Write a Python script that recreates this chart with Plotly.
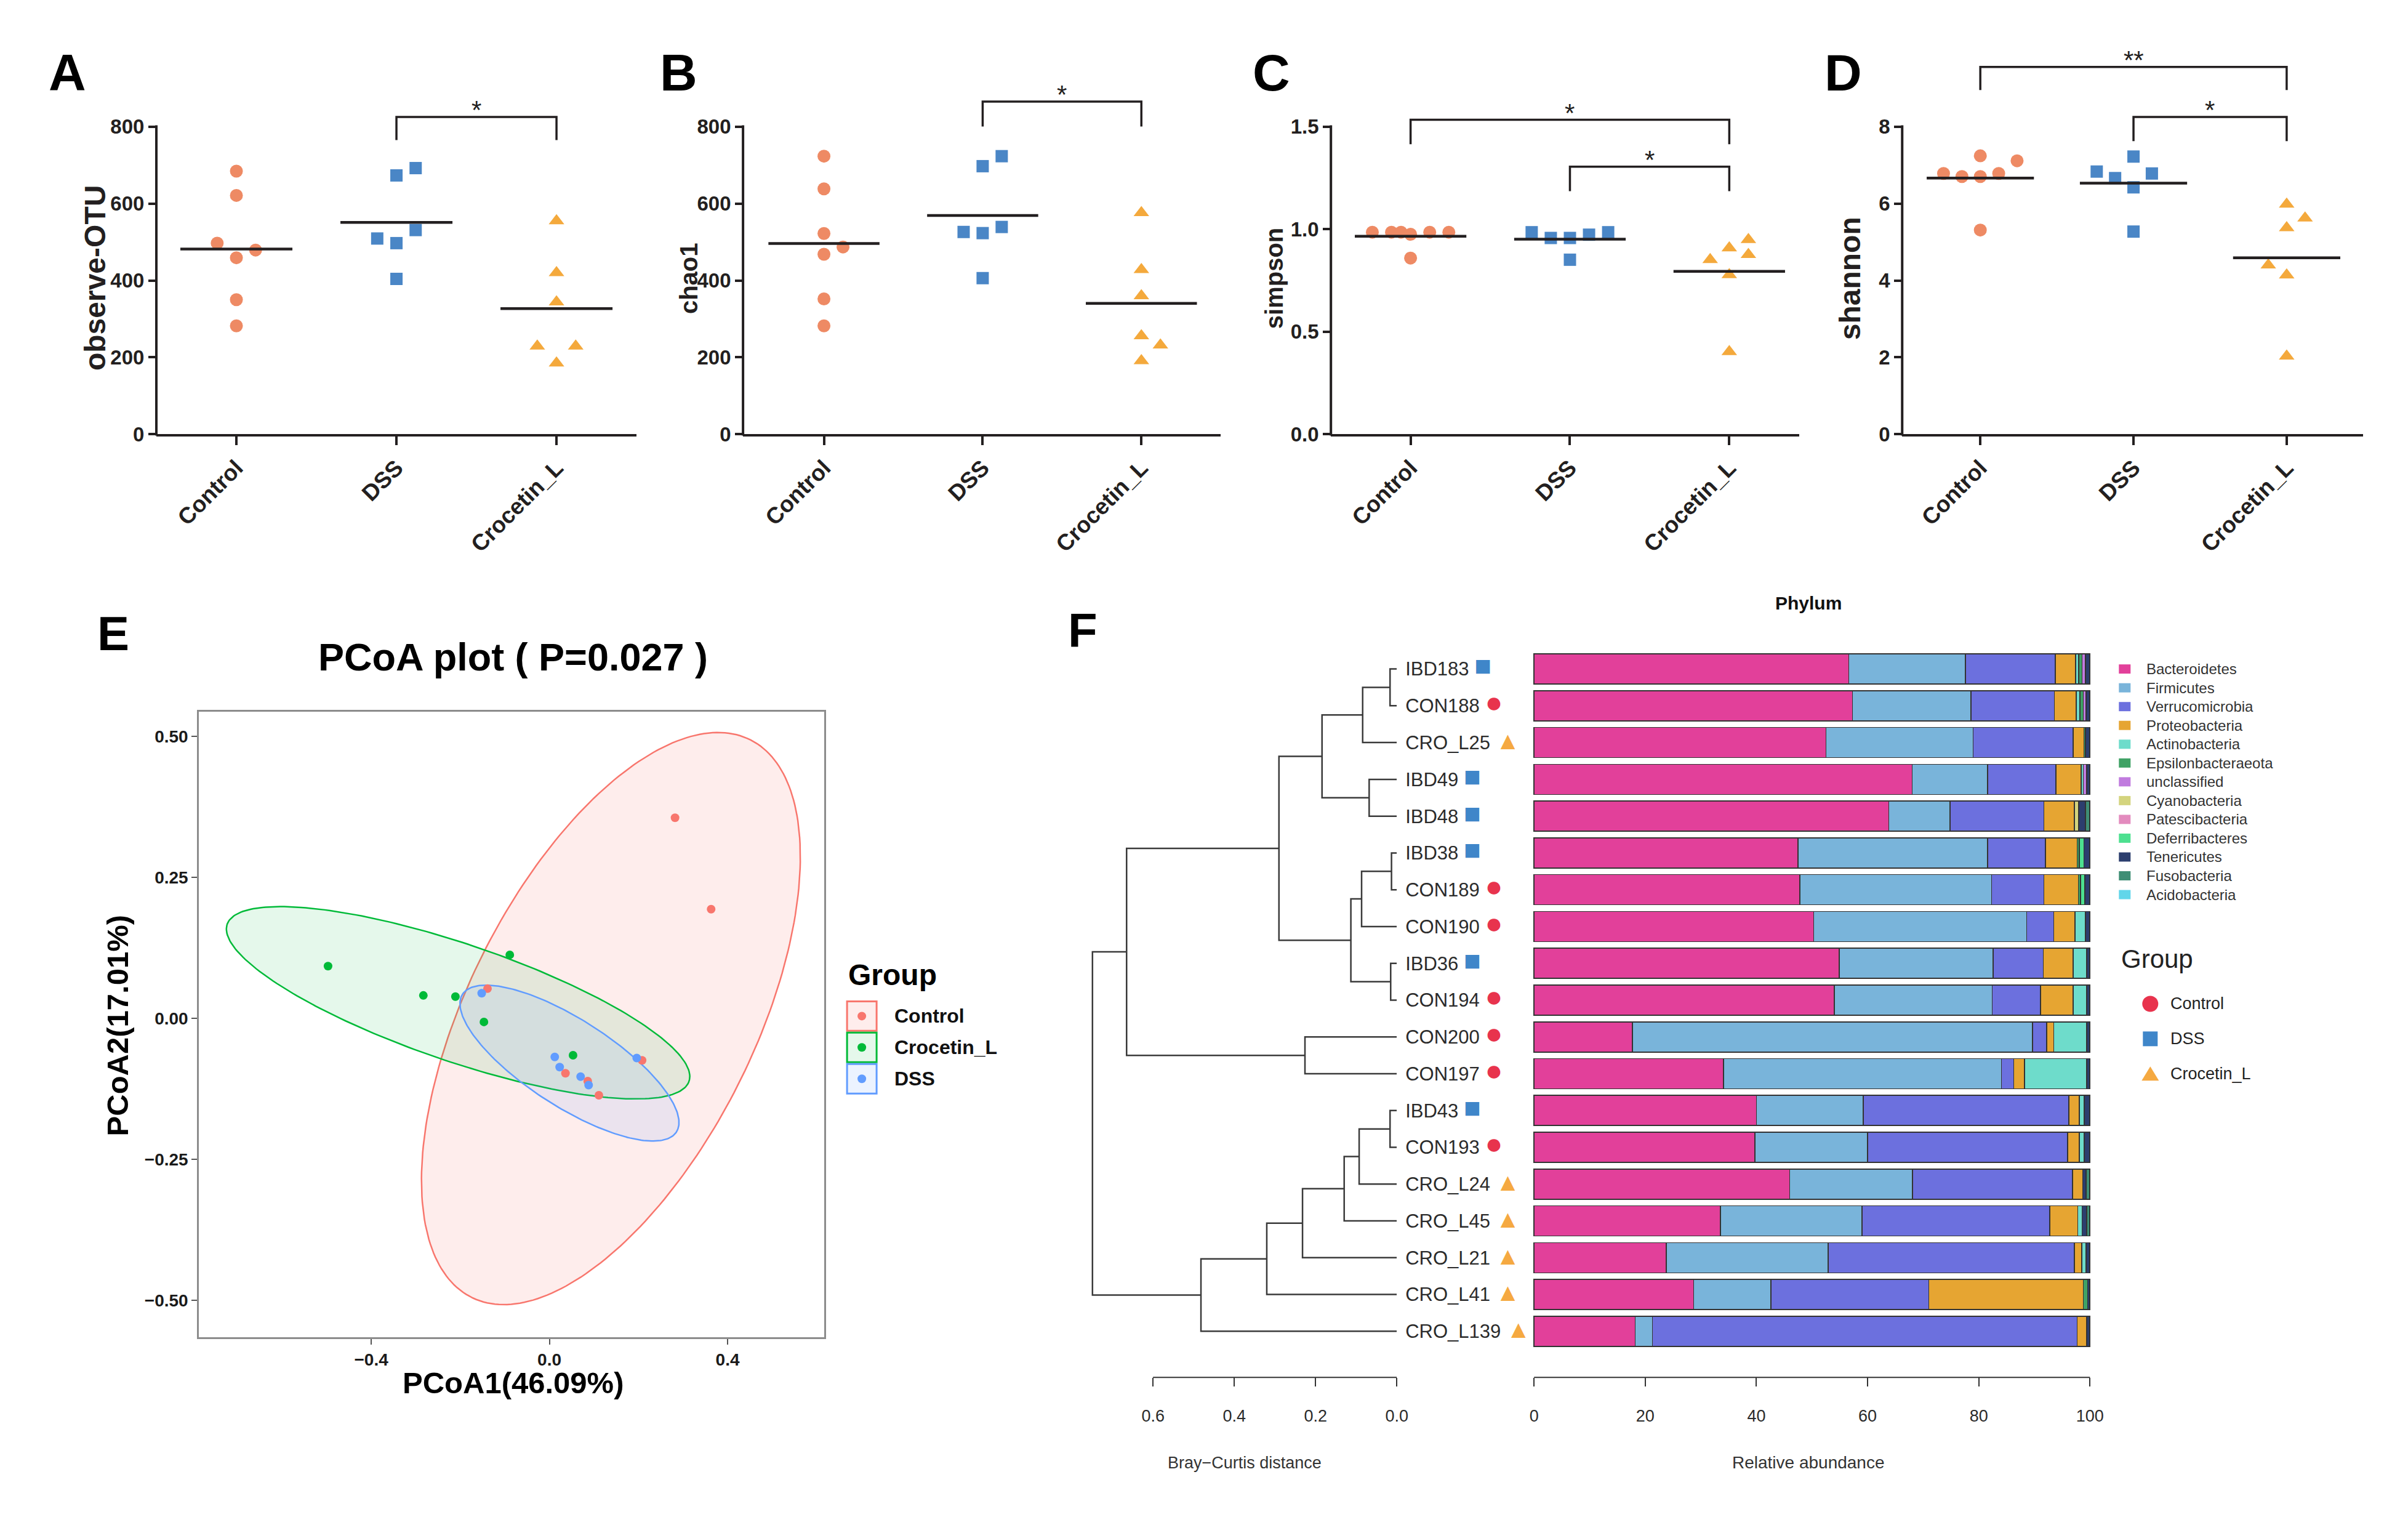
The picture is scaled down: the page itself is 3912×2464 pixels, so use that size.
import numpy as np
import plotly.graph_objects as go

W, H = 3912, 2464
S = 1.006  # small global calibration of pixel positions
FONT = "Liberation Sans, Arial, Helvetica, sans-serif"
INK = "#231F20"


def fx(p):
    return p * S / W


def fy(p):
    return 1 - p * S / H


# ======================= DATA =======================
groups = ["Control", "DSS", "Crocetin_L"]

# ---- A: observe-OTU
otu_control = [684, 621, 497, 479, 459, 350, 282]
otu_dss = [692, 673, 531, 509, 497, 404]
otu_croc = [555, 420, 344, 229, 229, 185]
otu_control_dx = [0, 0, -0.12, 0.12, 0, 0, 0]
otu_dss_dx = [0.12, 0, 0.12, -0.12, 0, 0]
otu_croc_dx = [0, 0, 0, -0.12, 0.12, 0]
otu_ticks = [0, 200, 400, 600, 800]
otu_brackets = [("DSS", "Crocetin_L", 825, 765, "*")]

# ---- B: chao1
chao_control = [723, 638, 522, 487, 468, 352, 282]
chao_dss = [723, 697, 539, 526, 523, 406]
chao_croc = [576, 428, 360, 256, 232, 191]
chao_control_dx = [0, 0, 0, 0.12, 0, 0, 0]
chao_dss_dx = [0.12, 0, 0.12, -0.12, 0, 0]
chao_croc_dx = [0, 0, 0, 0, 0.12, 0]
chao_ticks = [0, 200, 400, 600, 800]
chao_brackets = [("DSS", "Crocetin_L", 865, 800, "*")]

# ---- C: simpson
simp_control = [0.985, 0.985, 0.985, 0.975, 0.985, 0.985, 0.859]
simp_dss = [0.985, 0.957, 0.957, 0.973, 0.985, 0.851]
simp_croc = [0.949, 0.908, 0.876, 0.851, 0.778, 0.403]
simp_control_dx = [-0.24, -0.12, -0.06, 0, 0.12, 0.24, 0]
simp_dss_dx = [-0.24, -0.12, 0, 0.12, 0.24, 0]
simp_croc_dx = [0.12, 0, 0.12, -0.12, 0, 0]
simp_ticks = [0.0, 0.5, 1.0, 1.5]
simp_brackets = [("Control", "Crocetin_L", 1.533, 1.414, "*"),
                 ("DSS", "Crocetin_L", 1.304, 1.185, "*")]

# ---- D: shannon
shan_control = [7.24, 7.11, 6.78, 6.70, 6.70, 6.78, 5.31]
shan_dss = [7.22, 6.83, 6.78, 6.66, 6.42, 5.27]
shan_croc = [5.98, 5.62, 5.37, 4.40, 4.14, 2.03]
shan_control_dx = [0, 0.24, -0.24, -0.12, 0, 0.12, 0]
shan_dss_dx = [0, -0.24, 0.12, -0.12, 0, 0]
shan_croc_dx = [0, 0.12, 0, -0.12, 0, 0]
shan_ticks = [0, 2, 4, 6, 8]
shan_brackets = [("Control", "Crocetin_L", 9.55, 8.95, "**"),
                 ("DSS", "Crocetin_L", 8.25, 7.62, "*")]

# ---- E: PCoA
pcoa_groups = ["Control", "Crocetin_L", "DSS"]
pcoa_control_x = [0.282, 0.363, -0.139, 0.208, 0.036, 0.086, 0.111]
pcoa_control_y = [0.356, 0.194, 0.053, -0.074, -0.097, -0.111, -0.136]
pcoa_croc_x = [-0.497, -0.283, -0.211, -0.089, -0.147, 0.053]
pcoa_croc_y = [0.093, 0.041, 0.039, 0.113, -0.006, -0.065]
pcoa_dss_x = [-0.152, 0.012, 0.023, 0.070, 0.088, 0.196]
pcoa_dss_y = [0.045, -0.068, -0.086, -0.103, -0.118, -0.070]
# ellipse: centre x, centre y, semi-major, semi-minor, angle (deg)
ell_control = [0.138, 0.0, 0.589, 0.302, 53.7]
ell_croc = [-0.205, 0.028, 0.537, 0.106, -14.7]
ell_dss = [0.045, -0.079, 0.270, 0.0815, -25.7]
pcoa_xticks = [-0.4, 0.0, 0.4]
pcoa_yticks = [-0.50, -0.25, 0.00, 0.25, 0.50]

# ---- F: dendrogram + phylum composition
samples = ["IBD183", "CON188", "CRO_L25", "IBD49", "IBD48", "IBD38", "CON189",
           "CON190", "IBD36", "CON194", "CON200", "CON197", "IBD43", "CON193",
           "CRO_L24", "CRO_L45", "CRO_L21", "CRO_L41", "CRO_L139"]
sample_groups = ["DSS", "Control", "Crocetin_L", "DSS", "DSS", "DSS", "Control",
                 "Control", "DSS", "Control", "Control", "Control", "DSS", "Control",
                 "Crocetin_L", "Crocetin_L", "Crocetin_L", "Crocetin_L", "Crocetin_L"]
merge_left = [0, 19, 3, 20, 5, 23, 8, 24, 22, 10, 27, 12, 30, 31, 32, 33, 34, 29]
merge_right = [1, 2, 4, 21, 6, 7, 9, 25, 26, 11, 28, 13, 14, 15, 16, 17, 18, 35]
merge_height = [0.0166, 0.084, 0.068, 0.184, 0.013, 0.0866, 0.015, 0.113, 0.29,
                0.226, 0.665, 0.0166, 0.0926, 0.1295, 0.232, 0.32, 0.482, 0.749]
dist_ticks = [0.0, 0.2, 0.4, 0.6]
abund_ticks = [0, 20, 40, 60, 80, 100]

phyla = ["Bacteroidetes", "Firmicutes", "Verrucomicrobia", "Proteobacteria",
         "Actinobacteria", "Epsilonbacteraeota", "unclassified", "Cyanobacteria",
         "Patescibacteria", "Deferribacteres", "Tenericutes", "Fusobacteria",
         "Acidobacteria"]
bacteroidetes = [56.6, 57.3, 52.5, 68.0, 63.8, 47.5, 47.8, 50.3, 54.9, 54.0, 17.7, 34.1, 40.0, 39.7, 46.0, 33.5, 23.8, 28.7, 18.2]
firmicutes = [21.0, 21.3, 26.5, 13.6, 11.0, 34.1, 34.5, 38.3, 27.7, 28.4, 72.0, 50.0, 19.2, 20.3, 22.1, 25.5, 29.1, 13.9, 3.1]
verrucomicrobia = [16.2, 15.0, 18.0, 12.3, 16.9, 10.4, 9.4, 4.9, 9.0, 8.7, 2.5, 2.2, 37.0, 36.0, 28.8, 33.8, 44.3, 28.4, 76.4]
proteobacteria = [3.6, 3.9, 1.9, 4.5, 5.5, 5.7, 6.2, 3.8, 5.4, 5.9, 1.3, 1.9, 1.9, 2.1, 1.8, 5.0, 1.3, 27.8, 1.7]
actinobacteria = [0.6, 0.7, 0, 0.4, 0, 0, 0, 1.9, 2.4, 2.4, 5.9, 11.2, 0.9, 0.9, 0, 0.8, 0.8, 0, 0]
epsilonbacteraeota = [0.6, 0.6, 0.3, 0, 0, 0.4, 0.4, 0, 0, 0, 0, 0, 0, 0, 0, 0, 0, 0.8, 0]
unclassified = [0.6, 0.5, 0, 0.6, 0, 0, 0, 0, 0, 0, 0, 0, 0, 0, 0, 0, 0, 0, 0]
cyanobacteria = [0, 0, 0, 0, 0.8, 0, 0, 0, 0, 0, 0, 0, 0, 0, 0, 0, 0, 0, 0]
patescibacteria = [0] * 19
deferribacteres = [0, 0, 0, 0, 0, 0.8, 0.8, 0, 0, 0, 0, 0, 0, 0, 0, 0, 0, 0, 0]
tenericutes = [0.8, 0.7, 0.8, 0.6, 1.2, 1.1, 0.9, 0.8, 0.6, 0.6, 0.6, 0.6, 1.0, 1.0, 0.6, 0.8, 0.7, 0.4, 0.6]
fusobacteria = [0, 0, 0, 0, 0.8, 0, 0, 0, 0, 0, 0, 0, 0, 0, 0.7, 0.6, 0, 0, 0]
acidobacteria = [0] * 19
phylum_values = [bacteroidetes, firmicutes, verrucomicrobia, proteobacteria,
                 actinobacteria, epsilonbacteraeota, unclassified, cyanobacteria,
                 patescibacteria, deferribacteres, tenericutes, fusobacteria,
                 acidobacteria]

# ======================= STYLE =======================
gcol = {"Control": "#EE8A64", "DSS": "#4A86C6", "Crocetin_L": "#F4A93C"}
gsym = {"Control": "circle", "DSS": "square", "Crocetin_L": "triangle-up"}
gsize = {"Control": 21, "DSS": 20, "Crocetin_L": 22}
pcol = {"Control": "#F8766D", "Crocetin_L": "#00BA38", "DSS": "#619CFF"}
pfill = {"Control": "rgba(248,118,109,0.13)", "Crocetin_L": "rgba(0,186,56,0.10)",
         "DSS": "rgba(97,156,255,0.12)"}
fcol = {"Control": "#E8334D", "DSS": "#3F86C9", "Crocetin_L": "#F5A941"}
fsym = {"Control": "\u25CF", "DSS": "\u25A0", "Crocetin_L": "\u25B2"}
fsymsize = {"Control": 48, "DSS": 46, "Crocetin_L": 40}
phylum_colors = ["#E2409A", "#79B4DA", "#6C70DE", "#E6A532", "#6EDCCB", "#3FA265",
                 "#C07BDE", "#D4D47E", "#E38BBE", "#4DE090", "#2C3E6E", "#3F8E75",
                 "#62D6EA"]

fig = go.Figure()
shapes, annotations = [], []
layout = dict(width=W, height=H, autosize=False,
              margin=dict(l=0, r=0, t=0, b=0, pad=0),
              paper_bgcolor="white", plot_bgcolor="white",
              showlegend=False, barmode="stack")


def bold(size, color=INK):
    return dict(family=FONT, size=size, color=color, weight="bold")


def plain(size, color="#2b2b2b"):
    return dict(family=FONT, size=size, color=color)


def text(x, y, s, font, **kw):
    d = dict(x=fx(x), y=fy(y), xref="paper", yref="paper", text=s,
             showarrow=False, font=font, xanchor="center", yanchor="middle")
    d.update(kw)
    annotations.append(d)


# ======================= PANELS A-D =======================
BOTTOM, TOPTICK, TITLE_Y = 706, 205, 452
abcd = [
    dict(letter="A", lx=105, title="observe-OTU", tx=150, tsize=48,
         vals=[otu_control, otu_dss, otu_croc],
         dx=[otu_control_dx, otu_dss_dx, otu_croc_dx], ticks=otu_ticks,
         fmt="d", rtop=860, xr=[-0.5, 2.5], xpx=(250, 1030), br=otu_brackets),
    dict(letter="B", lx=1098, title="chao1", tx=1115, tsize=40,
         vals=[chao_control, chao_dss, chao_croc],
         dx=[chao_control_dx, chao_dss_dx, chao_croc_dx], ticks=chao_ticks,
         fmt="d", rtop=900, xr=[-0.51, 2.5], xpx=(1203, 1979), br=chao_brackets),
    dict(letter="C", lx=2061, title="simpson", tx=2066, tsize=40,
         vals=[simp_control, simp_dss, simp_croc],
         dx=[simp_control_dx, simp_dss_dx, simp_croc_dx], ticks=simp_ticks,
         fmt=".1f", rtop=1.58, xr=[-0.5, 2.44], xpx=(2158, 2919), br=simp_brackets),
    dict(letter="D", lx=2990, title="shannon", tx=3001, tsize=48,
         vals=[shan_control, shan_dss, shan_croc],
         dx=[shan_control_dx, shan_dss_dx, shan_croc_dx], ticks=shan_ticks,
         fmt="d", rtop=9.75, xr=[-0.51, 2.5], xpx=(3086, 3835), br=shan_brackets),
]

for k, p in enumerate(abcd, start=1):
    sfx = "" if k == 1 else str(k)
    xs, ys = "x" + sfx, "y" + sfx
    top_val = p["ticks"][-1]
    ppu = (BOTTOM - TOPTICK) / top_val
    top_px = BOTTOM - p["rtop"] * ppu
    for gi, g in enumerate(groups):
        vals = p["vals"][gi]
        fig.add_trace(go.Scatter(
            x=[gi + d for d in p["dx"][gi]], y=vals, mode="markers",
            marker=dict(symbol=gsym[g], size=gsize[g], color=gcol[g], line=dict(width=0)),
            xaxis=xs, yaxis=ys, cliponaxis=False))
        m = float(np.mean(vals))
        fig.add_trace(go.Scatter(x=[gi - 0.35, gi + 0.35], y=[m, m], mode="lines",
                                 line=dict(color=INK, width=4.5), xaxis=xs, yaxis=ys))
    for (g1, g2, top, leg, lab) in p["br"]:
        i1, i2 = groups.index(g1), groups.index(g2)
        fig.add_trace(go.Scatter(x=[i1, i1, i2, i2], y=[leg, top, top, leg], mode="lines",
                                 line=dict(color=INK, width=3.5), xaxis=xs, yaxis=ys))
        annotations.append(dict(x=(i1 + i2) / 2, y=top, xref=xs, yref=ys, text=lab,
                                showarrow=False, xanchor="center", yanchor="bottom",
                                yshift=-14, font=dict(family=FONT, size=42, color=INK)))
    layout["xaxis" + sfx] = dict(
        domain=[fx(p["xpx"][0]), fx(p["xpx"][1])], range=p["xr"], anchor=ys,
        tickmode="array", tickvals=[0, 1, 2], ticktext=groups, tickangle=-45,
        showline=True, linewidth=4, linecolor=INK, ticks="outside", ticklen=14,
        tickwidth=4, tickcolor=INK, tickfont=bold(37), showgrid=False,
        zeroline=False, fixedrange=True)
    layout["yaxis" + sfx] = dict(
        domain=[fy(BOTTOM), fy(top_px)], range=[0, p["rtop"]], anchor=xs,
        tickmode="array", tickvals=p["ticks"], tickformat=p["fmt"],
        ticks="outside", ticklen=12, tickwidth=4, tickcolor=INK,
        tickfont=bold(33), showline=False, showgrid=False, zeroline=False,
        fixedrange=True)
    shapes.append(dict(type="line", xref="paper", yref="paper",
                       x0=fx(p["xpx"][0]), x1=fx(p["xpx"][0]),
                       y0=fy(BOTTOM + 2), y1=fy(TOPTICK - 2),
                       line=dict(color=INK, width=4)))
    text(p["tx"], TITLE_Y, p["title"], bold(p["tsize"]), textangle=-90)
    text(p["lx"], 117, p["letter"], bold(84, "#000"))

# ======================= PANEL E =======================
E_L, E_R, E_T, E_B = 319, 1335, 1158, 2176
pc_x = {"Control": pcoa_control_x, "Crocetin_L": pcoa_croc_x, "DSS": pcoa_dss_x}
pc_y = {"Control": pcoa_control_y, "Crocetin_L": pcoa_croc_y, "DSS": pcoa_dss_y}
pc_e = {"Control": ell_control, "Crocetin_L": ell_croc, "DSS": ell_dss}
t = np.linspace(0, 2 * np.pi, 240)
for g in pcoa_groups:
    cx, cy, a, b, ang = pc_e[g]
    phi = np.deg2rad(ang)
    ex = cx + a * np.cos(t) * np.cos(phi) - b * np.sin(t) * np.sin(phi)
    ey = cy + a * np.cos(t) * np.sin(phi) + b * np.sin(t) * np.cos(phi)
    fig.add_trace(go.Scatter(x=ex, y=ey, mode="lines", fill="toself",
                             fillcolor=pfill[g], line=dict(color=pcol[g], width=2.5),
                             xaxis="x5", yaxis="y5"))
for g in pcoa_groups:
    fig.add_trace(go.Scatter(x=pc_x[g], y=pc_y[g], mode="markers",
                             marker=dict(size=14, color=pcol[g], line=dict(width=0)),
                             xaxis="x5", yaxis="y5"))
layout["xaxis5"] = dict(domain=[fx(E_L), fx(E_R)], range=[-0.787, 0.617], anchor="y5",
                        tickvals=pcoa_xticks, tickformat=".1f", showline=True, mirror=True,
                        linecolor="#8C8C8C", linewidth=2.5, ticks="outside", ticklen=9,
                        tickwidth=2, tickcolor="#555", tickfont=bold(28, "#1a1a1a"),
                        showgrid=False, zeroline=False)
layout["yaxis5"] = dict(domain=[fy(E_B), fy(E_T)], range=[-0.5654, 0.5436], anchor="x5",
                        tickvals=pcoa_yticks, tickformat=".2f", showline=True, mirror=True,
                        linecolor="#8C8C8C", linewidth=2.5, ticks="outside", ticklen=9,
                        tickwidth=2, tickcolor="#555", tickfont=bold(28, "#1a1a1a"),
                        showgrid=False, zeroline=False)
text(180, 1030, "E", bold(78, "#000"))
text(829, 1068, "PCoA plot ( P=0.027 )", bold(63, "#000"))
text(829, 2250, "PCoA1(46.09%)", bold(49, "#000"))
text(187, 1669, "PCoA2(17.01%)", bold(49, "#000"), textangle=-90)
# legend E
text(1372, 1586, "Group", bold(48, "#000"), xanchor="left")
for i, g in enumerate(pcoa_groups):
    y0 = 1629 + 51 * i
    shapes.append(dict(type="rect", xref="paper", yref="paper", x0=fx(1372), x1=fx(1420),
                       y0=fy(y0 + 48), y1=fy(y0), fillcolor=pfill[g],
                       line=dict(color=pcol[g], width=3)))
    shapes.append(dict(type="circle", xref="paper", yref="paper", x0=fx(1389), x1=fx(1403),
                       y0=fy(y0 + 31), y1=fy(y0 + 17), fillcolor=pcol[g],
                       line=dict(width=0)))
    text(1447, y0 + 24, g, bold(32, "#111"), xanchor="left")

# ======================= PANEL F =======================
n = len(samples)
pos = {i: (0.0, float(i)) for i in range(n)}
dxs, dys = [], []
for j, (l, r, h) in enumerate(zip(merge_left, merge_right, merge_height)):
    xl, yl = pos[l]
    xr, yr = pos[r]
    dxs += [xl, h, h, xr, None]
    dys += [yl, yl, yr, yr, None]
    pos[n + j] = (h, (yl + yr) / 2)
fig.add_trace(go.Scatter(x=dxs, y=dys, mode="lines", line=dict(color="#3a3a3a", width=2.5),
                         xaxis="x6", yaxis="y6"))

for name, vals, col in zip(phyla, phylum_values, phylum_colors):
    fig.add_trace(go.Bar(x=[v if v > 0 else None for v in vals], y=list(range(n)),
                         orientation="h", width=0.82, name=name,
                         marker=dict(color=col, line=dict(color="#333333", width=1.6)),
                         xaxis="x7", yaxis="y7"))

labels = [f'{s} <span style="color:{fcol[g]};font-size:{fsymsize[g]}px">{fsym[g]}</span>'
          for s, g in zip(samples, sample_groups)]
F_TOP, F_BOT, F_AX = 1058, 2196, 2241
layout["xaxis6"] = dict(domain=[fx(1737), fx(2265)], range=[0.8, 0], anchor="free",
                        position=fy(F_AX), tickvals=dist_ticks, tickformat=".1f",
                        ticks="outside", ticklen=14, tickwidth=2, tickcolor="#333",
                        tickfont=plain(27), ticklabelstandoff=24, showline=False,
                        showgrid=False, zeroline=False)
layout["yaxis6"] = dict(domain=[fy(F_BOT), fy(F_TOP)], range=[n - 0.5, -0.5], anchor="x6",
                        side="right", tickmode="array", tickvals=list(range(n)),
                        ticktext=labels, ticks="", tickfont=plain(31, "#2b2b2b"),
                        ticklabelstandoff=13, showline=False, showgrid=False,
                        zeroline=False)
layout["xaxis7"] = dict(domain=[fx(2484.4), fx(3394.6)], range=[-0.4, 100.4], anchor="free",
                        position=fy(F_AX), tickvals=abund_ticks, ticks="outside",
                        ticklen=14, tickwidth=2, tickcolor="#333", tickfont=plain(27),
                        ticklabelstandoff=24, showline=False, showgrid=False,
                        zeroline=False)
layout["yaxis7"] = dict(domain=[fy(F_BOT), fy(F_TOP)], range=[n - 0.5, -0.5], anchor="x7",
                        showticklabels=False, ticks="", showline=False, showgrid=False,
                        zeroline=False)
shapes.append(dict(type="line", xref="x6", yref="paper", x0=0, x1=0.6,
                   y0=fy(F_AX), y1=fy(F_AX), line=dict(color="#333", width=2)))
shapes.append(dict(type="line", xref="x7", yref="paper", x0=0, x1=100,
                   y0=fy(F_AX), y1=fy(F_AX), line=dict(color="#333", width=2)))
text(1755, 1025, "F", bold(78, "#000"))
text(2934, 981, "Phylum", bold(30, "#111"))
text(2018, 2380, "Bray\u2212Curtis distance", plain(27, "#333"))
text(2934, 2380, "Relative abundance", plain(28, "#333"))

# phylum legend
for i, (name, col) in enumerate(zip(phyla, phylum_colors)):
    yc = 1088 + 30.6 * i
    shapes.append(dict(type="rect", xref="paper", yref="paper", x0=fx(3438), x1=fx(3457),
                       y0=fy(yc + 7.5), y1=fy(yc - 7.5), fillcolor=col, line=dict(width=0)))
    text(3481, yc, name, plain(24, "#333"), xanchor="left")

# group legend F
text(3440, 1560, "Group", plain(42, "#222"), xanchor="left")
shapes.append(dict(type="circle", xref="paper", yref="paper", x0=fx(3476), x1=fx(3502),
                   y0=fy(1646), y1=fy(1620), fillcolor=fcol["Control"], line=dict(width=0)))
shapes.append(dict(type="rect", xref="paper", yref="paper", x0=fx(3477), x1=fx(3501),
                   y0=fy(1702), y1=fy(1678), fillcolor=fcol["DSS"], line=dict(width=0)))
shapes.append(dict(type="path", xref="paper", yref="paper",
                   path=f"M {fx(3475)},{fy(1758)} L {fx(3503)},{fy(1758)} L {fx(3489)},{fy(1735)} Z",
                   fillcolor=fcol["Crocetin_L"], line=dict(width=0)))
for yv, g in zip([1633, 1690, 1747], ["Control", "DSS", "Crocetin_L"]):
    text(3520, yv, g, plain(27, "#222"), xanchor="left")

layout["shapes"] = shapes
layout["annotations"] = annotations
fig.update_layout(**layout)

fig.write_html("out.html", config={"displayModeBar": False},
               post_script="document.body.style.margin='0';document.body.style.overflow='hidden';")
